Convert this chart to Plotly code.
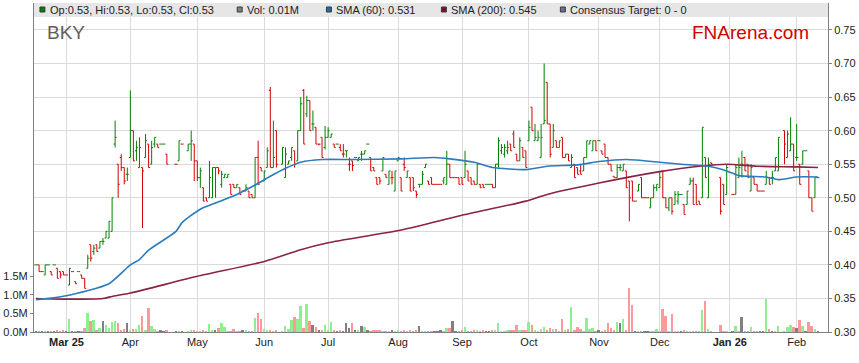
import pandas as pd
import plotly.graph_objects as go

# ---------------- data (one entry per weekday, None = market holiday) ----------------
holidays = ["2025-04-18", "2025-04-21", "2025-04-25", "2025-06-09",
            "2025-12-25", "2025-12-26", "2026-01-01", "2026-01-26"]
weekdays = pd.bdate_range("2025-02-17", "2026-02-11")

opens = [
    .40, .40, .39, .385, .40,   .39, .40, .395, .39, .39,   .385, .37, .39, .375, .39,
    .385, .38, .395, .43, .42,  .43, .425, .435, .44, .44,  .45, .58, .55, .56, .545,
    .535, .56, .60, .57, .545,  .545, .56, .58, .55, .58,   .58, .58, .58, .565, None,
    None, .55, .555, .58, None, .57, .58, .58, .555, .53,   .515, .50, .50, .50, .545,
    .545, .52, .53, .53, .52,   .52, .515, .515, .51, .51,  .51, .505, .50, .56, .545,
    .525, .545, .66, .545, .60, None, .55, .53, .55, .56,   .57, .555, .60, .66, .625,
    .645, .61, .605, .58, .59,  .575, .59, .59, .58, .58,   .575, .565, .57, .55, .555,
    .56, .555, .565, .565, .58, .56, .545, .53, .53, .54,   .535, .52, .53, .51, .555,
    .53, .55, .53, .53, .53,    .51, .52, .52, .545, .525,  .53, .52, .52, .52, .525,
    .52, .55, .53, .53, .53,    .53, .53, .54, .53, .525,   .52, .52, .52, .52, .52,
    .52, .515, .55, .57, .565,  .57, .58, .595, .565, .555, .575, .57, .585, .635, .585,
    .585, .56, .61, .672, .61,  .575, .585, .575, .59, .56, .565, .545, .55, .545, .54,
    .54, .56, .58, .57, .585,   .585, .57, .58, .56, .55,   .532, .53, .545, .54, .54,
    .525, .525, .495, .51, .53, .50, .50, .485, .50, .515,  .515, .54, .50, .485, .50,
    .49, .495, .505, .49, .49,  .52, .525, .52, .495, .50,  .56, .50, .552, None, None,
    .53, .52, .505, None, .505, .505, .53, .55, .56, .55,   .51, .53, .52, .51, .51,
    .52, .53, .53, .54, .54,    None, .60, .56, .57, .58,   .56, .55, .55, .57, .54,
    .50, .50, .53,
]
highs = [
    .40, .40, .39, .40, .40,    .39, .40, .395, .39, .39,   .385, .395, .39, .375, .39,
    .385, .38, .415, .43, .43,  .43, .435, .44, .45, .465,  .50, .615, .55, .565, .545,
    .545, .66, .60, .585, .59,  .545, .595, .58, .585, .59, .58, .58, .58, .565, None,
    None, .55, .585, .58, None, .58, .60, .58, .555, .545,  .515, .50, .555, .545, .545,
    .545, .54, .535, .535, .52, .52, .52, .515, .51, .52,   .51, .505, .56, .585, .545,
    .54, .575, .665, .615, .60, None, .575, .575, .555, .575, .57, .60, .65, .662, .652,
    .645, .63, .605, .58, .59,  .607, .605, .595, .58, .58, .58, .58, .57, .56, .555,
    .56, .56, .57, .57, .58,    .56, .545, .53, .53, .56,   .535, .54, .54, .54, .56,
    .53, .56, .54, .53, .53,    .51, .52, .54, .55, .525,   .53, .52, .52, .52, .53,
    .57, .55, .53, .53, .53,    .53, .57, .54, .53, .525,   .55, .52, .52, .52, .52,
    .52, .55, .59, .58, .58,    .585, .58, .60, .565, .59,  .575, .57, .615, .635, .61,
    .60, .61, .70, .672, .61,   .61, .585, .585, .59, .565, .565, .565, .55, .545, .55,
    .56, .585, .585, .585, .585, .585, .57, .58, .56, .55,  .532, .55, .55, .55, .54,
    .525, .525, .495, .52, .53, .50, .50, .50, .52, .52,    .54, .54, .50, .50, .50,
    .51, .51, .505, .49, .51,   .53, .53, .52, .495, .605,  .56, .56, .552, None, None,
    .53, .52, .55, None, .505,  .55, .56, .57, .56, .55,    .55, .53, .52, .51, .51,
    .54, .53, .54, .56, .59,    None, .60, .60, .62, .58,   .61, .55, .57, .57, .54,
    .50, .53, .53,
]
lows = [
    .40, .39, .39, .385, .40,   .385, .40, .38, .38, .385,  .385, .37, .39, .372, .39,
    .38, .365, .395, .405, .415, .42, .425, .43, .44, .44,  .45, .575, .50, .54, .52,
    .525, .56, .555, .555, .545, .455, .56, .545, .55, .575, .575, .58, .58, .55, None,
    None, .55, .555, .58, None, .57, .555, .525, .525, .515, .495, .495, .50, .50, .50,
    .535, .515, .53, .53, .505, .515, .515, .505, .51, .51, .50, .50, .50, .52, .54,
    .525, .545, .545, .545, .545, None, .55, .53, .55, .555, .545, .555, .60, .58, .62,
    .60, .60, .58, .578, .56,   .572, .59, .59, .575, .58,  .57, .56, .56, .54, .54,
    .56, .555, .555, .565, .58, .54, .54, .52, .52, .54,    .53, .52, .52, .51, .555,
    .51, .54, .53, .51, .51,    .50, .515, .52, .545, .52,  .52, .52, .52, .52, .52,
    .52, .53, .53, .53, .52,    .52, .53, .525, .52, .52,   .52, .515, .515, .52, .52,
    .515, .515, .545, .565, .56, .565, .57, .575, .555, .555, .56, .545, .585, .60, .585,
    .585, .56, .61, .61, .56,   .575, .575, .575, .56, .56, .555, .545, .53, .535, .535,
    .54, .56, .58, .57, .57,    .585, .565, .56, .55, .54,  .53, .53, .54, .54, .515,
    .465, .495, .495, .51, .50, .50, .50, .485, .50, .51,   .515, .50, .485, .48, .475,
    .49, .49, .505, .475, .49,  .52, .49, .49, .49, .50,    .53, .50, .55, None, None,
    .475, .49, .505, None, .505, .505, .53, .53, .54, .53,  .51, .52, .51, .51, .51,
    .52, .52, .52, .54, .54,    None, .55, .56, .57, .54,   .555, .52, .55, .57, .50,
    .48, .50, .53,
]
closes = [
    .40, .39, .39, .40, .40,    .385, .40, .38, .385, .385, .385, .395, .39, .372, .39,
    .38, .365, .41, .41, .425,  .42, .435, .435, .45, .465, .50, .59, .52, .545, .525,
    .535, .60, .555, .575, .575, .54, .585, .545, .575, .59, .575, .58, .58, .55, None,
    None, .55, .585, .58, None, .58, .585, .555, .53, .54,  .495, .495, .53, .545, .545,
    .54, .535, .535, .535, .505, .515, .52, .505, .51, .515, .50, .50, .56, .52, .54,
    .54, .57, .545, .56, .55,   None, .575, .565, .555, .575, .55, .60, .64, .58, .645,
    .60, .61, .58, .58, .56,    .59, .60, .595, .575, .58,  .57, .565, .57, .55, .548,
    .56, .56, .565, .57, .58,   .54, .54, .52, .525, .56,   .53, .54, .53, .54, .56,
    .51, .545, .54, .51, .515,  .505, .52, .535, .55, .52,  .52, .52, .52, .52, .53,
    .55, .53, .53, .53, .52,    .52, .55, .525, .52, .52,   .55, .515, .515, .52, .52,
    .515, .55, .585, .575, .575, .575, .57, .575, .555, .585, .56, .545, .605, .60, .59,
    .59, .59, .615, .61, .565,  .60, .575, .585, .56, .565, .555, .56, .53, .535, .535,
    .56, .585, .585, .585, .57, .585, .565, .56, .55, .54,  .53, .545, .545, .55, .515,
    .50, .495, .495, .52, .50,  .50, .50, .50, .515, .52,   .53, .50, .485, .50, .48,
    .505, .505, .505, .475, .51, .525, .49, .49, .49, .605, .53, .55, .55, None, None,
    .48, .49, .545, None, .505, .545, .545, .55, .54, .53,  .545, .52, .51, .51, .51,
    .53, .52, .53, .56, .59,    None, .58, .595, .58, .54,  .56, .52, .57, .57, .50,
    .48, .53, .53,
]
volumes_m = [
    .01, .01, .01, .01, .01,    .01, .01, .03, .01, .03,    .01, .35, .01, .01, .01,
    .01, .10, .51, .30, .32,    .05, .10, .30, .19, .10,    .28, .30, .25, .05, .08,
    .24, .05, .08, .08, .19,    .43, .05, .65, .16, .08,    .01, .03, .01, .05, None,
    None, .01, .01, .01, None,  .01, .03, .03, .01, .01,    .03, .01, .22, .03, .03,
    .10, .24, .13, .01, .01,    .08, .01, .01, .03, .05,    .01, .01, .38, .52, .35,
    .08, .03, .05, .01, .05,    None, .01, .16, .07, .32,   .40, .35, .70, .12, .76,
    .30, .19, .13, .03, .05,    .19, .03, .28, .04, .01,    .03, .01, .25, .10, .25,
    .05, .03, .16, .13, .03,    .01, .05, .03, .05, .01,    .01, .01, .03, .01, .03,
    .01, .03, .01, .03, .01,    .05, .16, .01, .01, .01,    .01, .01, .01, .03, .01,
    .11, .11, .30, .01, .01,    .05, .14, .01, .01, .05,    .03, .01, .03, .01, .01,
    .05, .05, .23, .01, .01,    .05, .05, .05, .19, .03,    .05, .05, .28, .19, .03,
    .01, .08, .14, .03, .10,    .08, .08, .01, .35, .03,    .08, .68, .03, .14, .08,
    .01, .37, .08, .11, .01,    .03, .01, .03, .24, .11,    .05, .28, .24, .35, .03,
    1.20, .74, .01, .01, .01,   .01, .02, .01, .01, .08,    .01, .62, .44, .02, .50,
    .02, .01, .01, .03, .01,    .02, .02, .02, .02, .60,    .85, .09, .02, None, None,
    .20, .02, .02, None, .01,   .17, .02, .41, .02, .01,    .14, .02, .02, .01, .01,
    .90, .07, .02, .02, .17,    None, .02, .14, .20, .14,   .12, .33, .17, .02, .28,
    .17, .09, .01,
]

sma60_dates = ["2025-02-17", "2025-03-03", "2025-03-21", "2025-04-01", "2025-04-04", "2025-04-09",
               "2025-04-22", "2025-04-24", "2025-05-02", "2025-05-12", "2025-05-20", "2025-05-28",
               "2025-06-04", "2025-06-11", "2025-06-18", "2025-06-27", "2025-07-11", "2025-08-04",
               "2025-08-19", "2025-08-26", "2025-09-05", "2025-09-15", "2025-09-30", "2025-10-09",
               "2025-10-23", "2025-11-03", "2025-11-14", "2025-12-01", "2025-12-10", "2025-12-23",
               "2025-12-31", "2026-01-06", "2026-01-19", "2026-01-23", "2026-02-02", "2026-02-11"]
sma60_vals = [0.348, 0.354, 0.372, 0.400, 0.408, 0.422, 0.450, 0.463, 0.483, 0.494, 0.505, 0.519,
              0.532, 0.544, 0.553, 0.557, 0.557, 0.558, 0.560, 0.558, 0.553, 0.545, 0.542, 0.547,
              0.549, 0.554, 0.557, 0.553, 0.550, 0.547, 0.540, 0.533, 0.531, 0.527, 0.531, 0.531]

sma200_dates = ["2025-02-17", "2025-03-03", "2025-03-19", "2025-03-24", "2025-04-01", "2025-05-01",
                "2025-06-02", "2025-06-18", "2025-07-01", "2025-08-04", "2025-09-01", "2025-09-30",
                "2025-10-09", "2025-11-03", "2025-12-01", "2025-12-18", "2025-12-31", "2026-01-14",
                "2026-02-02", "2026-02-11"]
sma200_vals = [0.350, 0.349, 0.350, 0.353, 0.358, 0.383, 0.405, 0.4226, 0.433, 0.452, 0.474, 0.495,
               0.505, 0.522, 0.539, 0.547, 0.550, 0.547, 0.546, 0.545]

month_ticks = ["2025-03-03", "2025-04-01", "2025-05-01", "2025-06-02", "2025-07-01", "2025-08-01",
               "2025-09-01", "2025-10-01", "2025-11-03", "2025-12-01", "2026-01-01", "2026-02-02"]
month_labels = ["<b>Mar 25</b>", "Apr", "May", "Jun", "Jul", "Aug", "Sep", "Oct", "Nov", "Dec",
                "<b>Jan 26</b>", "Feb"]
vol_tickvals = [0, 0.5, 1.0, 1.5]
vol_ticktext = ["0.0M", "0.5M", "1.0M", "1.5M"]

legend_items = [
    ("Op:0.53, Hi:0.53, Lo:0.53, Cl:0.53", "#008000"),
    ("Vol: 0.01M", "#808080"),
    ("SMA (60): 0.531", "#1f6aa8"),
    ("SMA (200): 0.545", "#7a1030"),
    ("Consensus Target: 0 - 0", "#6c6c98"),
]

# ---------------- assemble ----------------
keep = [k for k in range(len(weekdays)) if opens[k] is not None]
dates = [weekdays[k] for k in keep]
o = [opens[k] for k in keep]
h = [highs[k] for k in keep]
l = [lows[k] for k in keep]
c = [closes[k] for k in keep]
v = [volumes_m[k] for k in keep]
vcol = ["#90ee90" if cc > oo else ("#ff9999" if cc < oo else "#808080") for oo, cc in zip(o, c)]

FONT = "Liberation Sans, Arial, sans-serif"
W, H = 859, 363
L, R, T, B = 30, 28, 3, 31
PW, PH = W - L - R, H - T - B


def px(x):
    return (x - L) / PW


def py(y):
    return (H - B - y) / PH


fig = go.Figure()
fig.add_trace(go.Bar(x=dates, y=v, marker=dict(color=vcol, line=dict(width=0)),
                     width=0.62 * 86400000, yaxis="y", hoverinfo="skip"))
fig.add_trace(go.Ohlc(x=dates, open=o, high=h, low=l, close=c, yaxis="y2",
                      increasing=dict(line=dict(color="#008000", width=1)),
                      decreasing=dict(line=dict(color="#d40000", width=1)),
                      tickwidth=0.5, hoverinfo="skip"))
fig.add_trace(go.Scatter(x=sma200_dates, y=sma200_vals, yaxis="y2", mode="lines",
                         line=dict(color="#8b2246", width=1.6, shape="spline", smoothing=0.6),
                         hoverinfo="skip"))
fig.add_trace(go.Scatter(x=sma60_dates, y=sma60_vals, yaxis="y2", mode="lines",
                         line=dict(color="#2b7bbd", width=1.6, shape="spline", smoothing=0.6),
                         hoverinfo="skip"))

shapes = [dict(type="rect", xref="paper", yref="paper", x0=0, x1=1, y0=py(17), y1=1,
               fillcolor="#e6e6e6", line=dict(width=0), layer="above")]
annotations = []
sq_x = [36, 235, 325, 441, 561]
for (txt, col), sx in zip(legend_items, sq_x):
    shapes.append(dict(type="rect", xref="paper", yref="paper", x0=px(sx), x1=px(sx + 5),
                       y0=py(12), y1=py(7), fillcolor=col, line=dict(color="#3a3a3a", width=1),
                       layer="above"))
    annotations.append(dict(xref="paper", yref="paper", x=px(sx + 8), y=py(10), text=txt,
                            showarrow=False, xanchor="left", yanchor="middle",
                            font=dict(family=FONT, size=11, color="#222222")))
annotations.append(dict(xref="paper", yref="paper", x=px(41), y=py(33), text="BKY",
                        showarrow=False, xanchor="left", yanchor="middle",
                        font=dict(family=FONT, size=19, color="#606060")))
annotations.append(dict(xref="paper", yref="paper", x=px(692), y=py(33), text="FNArena.com",
                        showarrow=False, xanchor="left", yanchor="middle",
                        font=dict(family=FONT, size=19, color="#d10000")))

fig.update_layout(
    width=W, height=H, margin=dict(l=L, r=R, t=T, b=B, pad=0),
    paper_bgcolor="white", plot_bgcolor="white", showlegend=False,
    font=dict(family=FONT, size=11, color="#222222"),
    bargap=0, shapes=shapes, annotations=annotations,
    xaxis=dict(type="date", range=["2025-02-14 08:00", "2026-02-16 07:00"],
               rangebreaks=[dict(bounds=["sat", "mon"])],
               tickvals=month_ticks, ticktext=month_labels, tickangle=0,
               showgrid=True, gridcolor="#dadada", gridwidth=1,
               showline=True, linecolor="#808080", linewidth=1, ticks="",
               rangeslider=dict(visible=False), zeroline=False,
               tickfont=dict(family=FONT, size=11, color="#222222")),
    yaxis=dict(range=[0, 8.89], side="left", tickvals=vol_tickvals, ticktext=vol_ticktext,
               showgrid=False, zeroline=False, showline=True, linecolor="#808080", linewidth=1,
               ticks="outside", ticklen=3, tickcolor="#808080",
               tickfont=dict(family=FONT, size=11, color="#222222")),
    yaxis2=dict(range=[0.30, 0.7902], side="right", overlaying="y", dtick=0.05, tick0=0.30,
                tickformat=".2f", showgrid=True, gridcolor="#dadada", gridwidth=1,
                zeroline=False, showline=True, linecolor="#808080", linewidth=1,
                ticks="outside", ticklen=3, tickcolor="#808080",
                tickfont=dict(family=FONT, size=11, color="#222222")),
)

fig.write_html("out.html", config={"displayModeBar": False},
               post_script="document.body.style.margin='0';document.body.style.padding='0';")
